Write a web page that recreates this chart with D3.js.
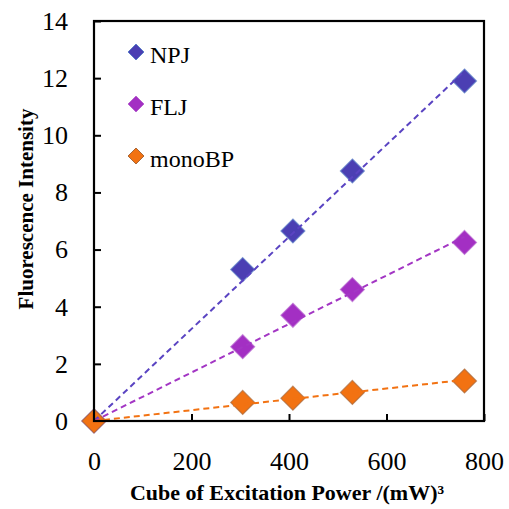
<!DOCTYPE html>
<html>
<head>
<meta charset="utf-8">
<script src="https://cdn.jsdelivr.net/npm/d3@7"></script>
<style>
  body { margin: 0; background: #fff; }
  svg text { font-family: "Liberation Serif", "Times New Roman", serif !important; }
</style>
</head>
<body>
<div id="chart"></div>
<script>
// data
var power = [0, 305, 408, 530, 760];
var npj = [0, 5.3, 6.65, 8.75, 11.9];
var flj = [0, 2.6, 3.7, 4.6, 6.25];
var monoBP = [0, 0.65, 0.8, 1.0, 1.4];
var seriesNames = ["NPJ", "FLJ", "monoBP"];
var xTicks = [0, 200, 400, 600, 800];
var yTicks = [0, 2, 4, 6, 8, 10, 12, 14];

var svgWidth = 509, svgHeight = 509;
var margin = { top: 21, right: 25, bottom: 88, left: 94 };
var width = svgWidth - margin.left - margin.right;
var height = svgHeight - margin.top - margin.bottom;

var svg = d3.select("#chart").append("svg")
  .attr("width", svgWidth)
  .attr("height", svgHeight)
  .attr("font-family", "Liberation Serif");

var chartGroup = svg.append("g")
  .attr("transform", `translate(${margin.left}, ${margin.top})`);

var x = d3.scaleLinear().domain([0, 800]).range([0, width]);
var y = d3.scaleLinear().domain([0, 14]).range([height, 0]);

var series = [
  { name: seriesNames[0], values: npj, fill: "#4b3fb3", stroke: "#5d80c8", line: "#5a44c2" },
  { name: seriesNames[1], values: flj, fill: "#a32fc3", stroke: "#b868d0", line: "#a336c4" },
  { name: seriesNames[2], values: monoBP, fill: "#f27212", stroke: "#a8683a", line: "#f27212" }
];

// axes, ticks pointing inward
var bottomAxis = d3.axisBottom(x).tickValues(xTicks).tickSize(-7).tickPadding(31).tickFormat(d3.format("d"));
var leftAxis = d3.axisLeft(y).tickValues(yTicks).tickSize(-7).tickPadding(26).tickFormat(d3.format("d"));

var gx = chartGroup.append("g")
  .attr("transform", `translate(0, ${height})`)
  .call(bottomAxis);
var gy = chartGroup.append("g").call(leftAxis);

[gx, gy].forEach(function(g) {
  g.attr("font-family", "Liberation Serif").attr("font-size", 26);
  g.select(".domain").remove();
  g.selectAll(".tick line").attr("stroke", "#000").attr("stroke-width", 2);
  g.selectAll(".tick text").attr("fill", "#000");
});

// diamond markers
var diamond = function(r) {
  return `M0,${-r}L${r},0L0,${r}L${-r},0Z`;
};

series.forEach(function(s) {
  chartGroup.selectAll(null)
    .data(s.values.map((v, i) => ({ x: power[i], y: v })))
    .enter()
    .append("path")
    .attr("d", diamond(12))
    .attr("transform", d => `translate(${x(d.x)}, ${y(d.y)})`)
    .attr("fill", s.fill)
    .attr("stroke", s.stroke)
    .attr("stroke-width", 1.2)
    .attr("stroke-opacity", 0.7);
});

// linear trendlines through origin (least squares)
series.forEach(function(s) {
  var sxy = d3.sum(s.values, (v, i) => v * power[i]);
  var sxx = d3.sum(power, p => p * p);
  var k = sxy / sxx;
  var xmax = d3.max(power);
  chartGroup.append("line")
    .attr("x1", x(0)).attr("y1", y(0))
    .attr("x2", x(xmax)).attr("y2", y(k * xmax))
    .attr("stroke", s.line)
    .attr("stroke-width", 2)
    .attr("stroke-dasharray", "6,4");
});

// frame
chartGroup.append("rect")
  .attr("width", width)
  .attr("height", height)
  .attr("fill", "none")
  .attr("stroke", "#000")
  .attr("stroke-width", 2.2);

// legend
var legend = chartGroup.selectAll(".legend")
  .data(series)
  .enter()
  .append("g")
  .attr("transform", (d, i) => `translate(42, ${31 + i * 52})`);

legend.append("path")
  .attr("d", diamond(8))
  .attr("fill", d => d.fill)
  .attr("stroke", d => d.stroke)
  .attr("stroke-width", 1);

legend.append("text")
  .attr("x", 14)
  .attr("y", 3)
  .attr("dy", "0.35em")
  .attr("font-size", 24)
  .text(d => d.name);

// axis labels
svg.append("text")
  .attr("transform", "rotate(-90)")
  .attr("x", -209)
  .attr("y", 33)
  .attr("text-anchor", "middle")
  .attr("font-size", 21)
  .attr("font-weight", "bold")
  .text("Fluorescence Intensity");

svg.append("text")
  .attr("x", margin.left + width / 2 - 2)
  .attr("y", 500)
  .attr("text-anchor", "middle")
  .attr("font-size", 22)
  .attr("font-weight", "bold")
  .text("Cube of Excitation Power /(mW)³");
</script>
</body>
</html>
